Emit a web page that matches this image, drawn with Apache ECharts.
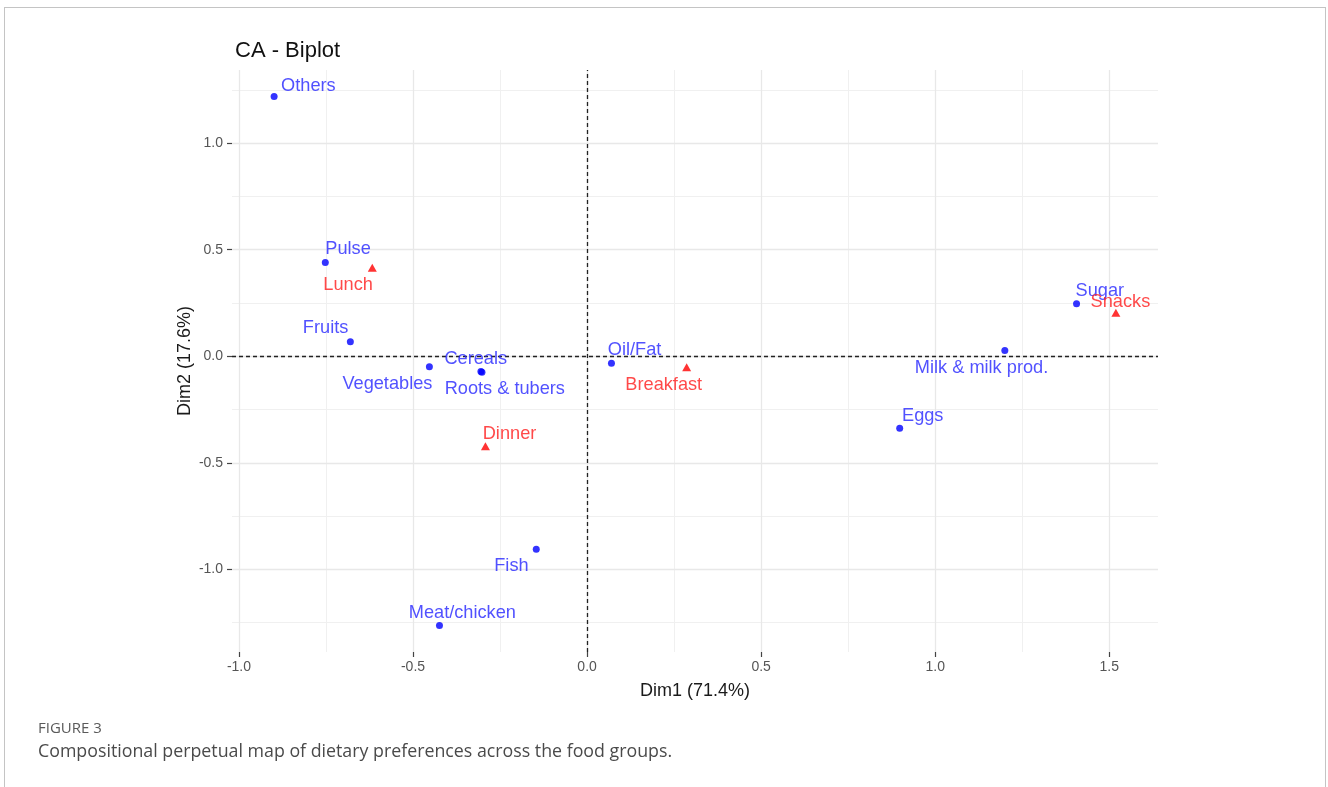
<!DOCTYPE html>
<html>
<head>
<meta charset="utf-8">
<title>CA - Biplot</title>
<script src="https://cdn.jsdelivr.net/npm/echarts@6/dist/echarts.min.js"></script>
<style>
  html, body { margin: 0; padding: 0; background: #ffffff; }
  body { width: 1328px; height: 787px; position: relative; overflow: hidden; }
  #frame { position: absolute; left: 4px; top: 7px; width: 1322px; height: 820px;
           border: 1px solid #c4c4c4; box-sizing: border-box; }
  #chart { position: absolute; left: 0; top: 0; width: 1328px; height: 787px; }
  #figno { position: absolute; left: 38px; top: 717px; font-family: "Open Sans", sans-serif;
           font-size: 15px; color: #5a5a5a; }
  #caption { position: absolute; left: 38px; top: 738px; font-family: "Open Sans", sans-serif;
             font-size: 17.8px; color: #4a4a4a; }
</style>
</head>
<body>
<div id="frame"></div>
<div id="chart"></div>
<div id="figno">FIGURE 3</div>
<div id="caption">Compositional perpetual map of dietary preferences across the food groups.</div>
<script>
// Row profiles (food groups)
const rowNames = ['Others', 'Pulse', 'Fruits', 'Vegetables', 'Cereals', 'Roots & tubers',
  'Fish', 'Meat/chicken', 'Oil/Fat', 'Milk & milk prod.', 'Eggs', 'Sugar'];
const rowDim1 = [-0.899, -0.752, -0.680, -0.453, -0.305, -0.302, -0.146, -0.424, 0.070, 1.200, 0.898, 1.406];
const rowDim2 = [1.219, 0.440, 0.068, -0.050, -0.072, -0.075, -0.906, -1.264, -0.033, 0.027, -0.338, 0.246];

// Column profiles (meal occasions)
const colNames = ['Breakfast', 'Lunch', 'Dinner', 'Snacks'];
const colDim1 = [0.286, -0.617, -0.292, 1.519];
const colDim2 = [-0.052, 0.415, -0.423, 0.204];

// Axis ticks and grid lines
const xTicks = [-1.0, -0.5, 0.0, 0.5, 1.0, 1.5];
const yTicks = [-1.0, -0.5, 0.0, 0.5, 1.0];
const xMinor = [-0.75, -0.25, 0.25, 0.75, 1.25];
const yMinor = [-1.25, -0.75, -0.25, 0.25, 0.75, 1.25];

// Label placement (pixel offsets of the label's left edge / vertical centre from its point)
const rowLabelShift = [[7, -10], [0, -13], [-47.5, -13.5], [-87, 17], [-36.5, -12.7], [-37.3, 16.6],
  [-42, 16.6], [-30.7, -13], [-3.7, -13.4], [-90, 17.7], [2.3, -12.7], [-1, -12.6]];
const colLabelShift = [[-61.3, 17.6], [-49, 17], [-2.7, -12], [-25.3, -10.6]];

const BLUE = '#0000ff';
const BLUE_TEXT = '#2626ff';
const RED = '#ff0000';
const RED_TEXT = '#ff1c1c';
const FONT = '"Liberation Sans", Arial, sans-serif';
const ROW_SIZE = [7, 7];
const COL_SIZE = [9, 8];

// label.position is relative to the symbol's bounding box, so shift by half its size
function points(names, d1, d2, shifts, textColor, size) {
  return names.map((n, i) => ({
    name: n,
    value: [d1[i], d2[i]],
    label: {
      show: true, formatter: n,
      position: [shifts[i][0] + size[0] / 2, shifts[i][1] + size[1] / 2],
      align: 'left', verticalAlign: 'middle',
      color: textColor, fontSize: 18.2, fontFamily: FONT,
      textBorderWidth: 0
    }
  }));
}

function gridLines(axis, vals, color, width) {
  return vals.map(v => ({ [axis]: v, lineStyle: { color: color, width: width, type: 'solid' } }));
}

const chart = echarts.init(document.getElementById('chart'), null, { renderer: 'canvas' });

chart.setOption({
  animation: false,
  backgroundColor: 'transparent',
  title: {
    text: 'CA - Biplot', left: 230, top: 35,
    textStyle: { fontFamily: FONT, fontSize: 22, fontWeight: 'normal', color: '#111111' }
  },
  grid: { left: 232, right: 170, top: 70, bottom: 135, containLabel: false },
  xAxis: {
    type: 'value', min: -1.02, max: 1.64,
    name: 'Dim1 (71.4%)', nameLocation: 'middle', nameGap: 30, nameMoveOverlap: false,
    nameTextStyle: { fontFamily: FONT, fontSize: 18, color: '#1a1a1a' },
    axisLine: { show: false, onZero: false },
    axisTick: { show: true, customValues: xTicks, length: 5, lineStyle: { color: '#444444', width: 1.2 } },
    axisLabel: { customValues: xTicks, formatter: v => v.toFixed(1), margin: 8,
      fontFamily: FONT, fontSize: 14, color: '#555555' },
    splitLine: { show: false }
  },
  yAxis: {
    type: 'value', min: -1.388, max: 1.343,
    name: 'Dim2 (17.6%)', nameLocation: 'middle', nameGap: 38, nameRotate: 90, nameMoveOverlap: false,
    nameTextStyle: { fontFamily: FONT, fontSize: 18, color: '#1a1a1a' },
    axisLine: { show: false, onZero: false },
    axisTick: { show: true, customValues: yTicks, length: 5, lineStyle: { color: '#444444', width: 1.2 } },
    axisLabel: { customValues: yTicks, formatter: v => v.toFixed(1), margin: 9,
      fontFamily: FONT, fontSize: 14, color: '#555555' },
    splitLine: { show: false }
  },
  series: [
    {
      // panel grid: minor then major lines, kept beneath the marks
      type: 'line', data: [], silent: true, z: 0,
      markLine: {
        silent: true, symbol: 'none', label: { show: false }, animation: false, z: 0,
        data: [].concat(
          gridLines('xAxis', xMinor, '#f0f0f0', 1),
          gridLines('yAxis', yMinor, '#f0f0f0', 1),
          gridLines('xAxis', xTicks, '#e8e8e8', 1.3),
          gridLines('yAxis', yTicks, '#e8e8e8', 1.3)
        )
      }
    },
    {
      // origin reference lines
      type: 'line', data: [], silent: true, z: 1,
      markLine: {
        silent: true, symbol: 'none', label: { show: false }, animation: false, z: 1,
        lineStyle: { color: '#222222', width: 1.3, type: [4, 3] },
        data: [{ xAxis: 0 }, { yAxis: 0 }]
      }
    },
    {
      name: 'Rows', type: 'scatter', z: 4,
      symbol: 'circle', symbolSize: ROW_SIZE,
      itemStyle: { color: BLUE },
      labelLayout: { hideOverlap: false },
      data: points(rowNames, rowDim1, rowDim2, rowLabelShift, BLUE_TEXT, ROW_SIZE)
    },
    {
      name: 'Columns', type: 'scatter', z: 5,
      symbol: 'triangle', symbolSize: COL_SIZE,
      itemStyle: { color: RED },
      labelLayout: { hideOverlap: false },
      data: points(colNames, colDim1, colDim2, colLabelShift, RED_TEXT, COL_SIZE)
    }
  ]
});
</script>
</body>
</html>
